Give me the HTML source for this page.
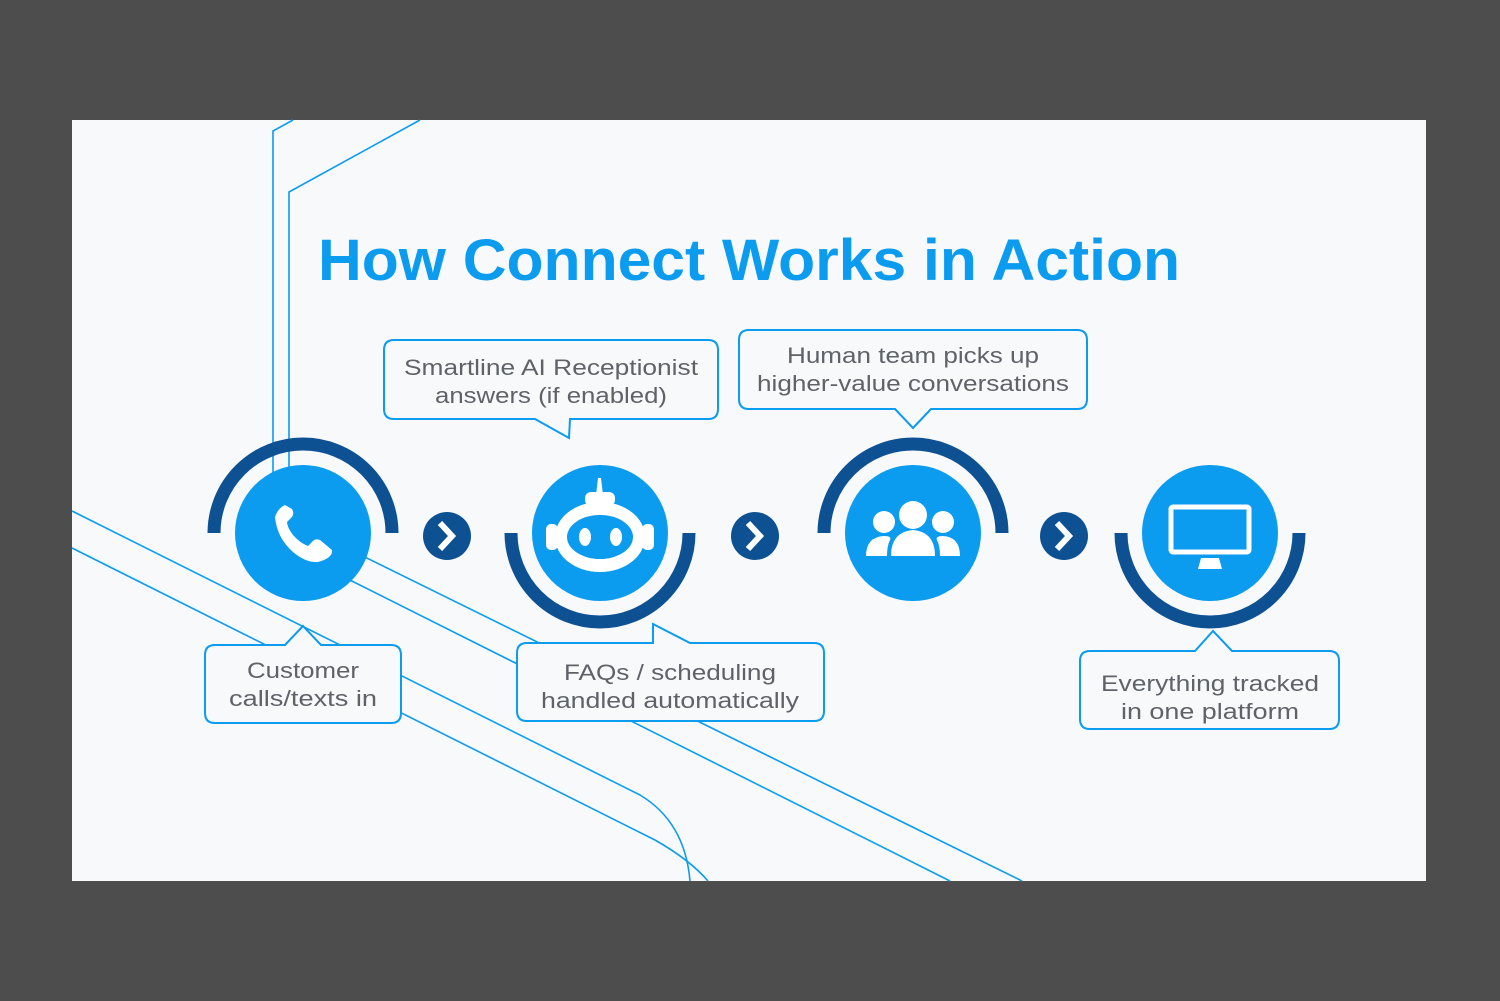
<!DOCTYPE html>
<html><head><meta charset="utf-8"><style>
html,body{margin:0;padding:0;background:#4d4d4d;}
svg{display:block;}
text{font-family:"Liberation Sans",sans-serif;}
</style></head><body>
<svg width="1500" height="1001" viewBox="0 0 1500 1001" xmlns="http://www.w3.org/2000/svg">
<rect width="1500" height="1001" fill="#4d4d4d"/>
<rect x="72" y="120" width="1354" height="761" fill="#f7f9fb"/>
<g fill="none" stroke="#0b9bef" stroke-width="1.6">
<path d="M293,120 L273,131 L273,500"/>
<path d="M420,120 L289,192 L289,500"/>
<path d="M72,511 L640,795 Q685,822 690,881"/>
<path d="M72,548 L655,840 Q690,860 708,881"/>
<path d="M310,530 L1022,881"/>
<path d="M290,550 L950,881"/>
</g>
<text x="318" y="280" font-size="58" font-weight="bold" fill="#0b9bef" textLength="862" lengthAdjust="spacingAndGlyphs">How Connect Works in Action</text>
<g fill="none" stroke="#0d5193" stroke-width="13">
<path d="M214,533 A89,89 0 0 1 392,533"/>
<path d="M511,533 A89,89 0 0 0 689,533"/>
<path d="M824,533 A89,89 0 0 1 1002,533"/>
<path d="M1121,533 A89,89 0 0 0 1299,533"/>
</g>
<g fill="#0b9bef">
<circle cx="303" cy="533" r="68"/>
<circle cx="600" cy="533" r="68"/>
<circle cx="913" cy="533" r="68"/>
<circle cx="1210" cy="533" r="68"/>
</g>
<g>
<circle cx="447" cy="536" r="24" fill="#0d5193"/>
<circle cx="755" cy="536" r="24" fill="#0d5193"/>
<circle cx="1064" cy="536" r="24" fill="#0d5193"/>
<g fill="none" stroke="#fff" stroke-width="6">
<path d="M440,523 L452,536 L440,549"/>
<path d="M748,523 L760,536 L748,549"/>
<path d="M1057,523 L1069,536 L1057,549"/>
</g>
</g>
<path d="M285,505 Q278,508 275,517 Q277,538 293,552 Q306,563 318,562 Q333,558 332,550 L320,540 Q315,538 312,542 L308,546 Q300,543 293,535 Q287,527 287,522 L291,518 Q295,514 292,509 Z" fill="#fff"/>
<g fill="#fff">
<polygon points="598,478 601,478 603,495 596,495"/>
<rect x="585" y="492" width="30" height="14" rx="6"/>
<rect x="546" y="524" width="12" height="26" rx="5"/>
<rect x="642" y="524" width="12" height="26" rx="5"/>
<ellipse cx="600" cy="537" rx="45" ry="35"/>
</g>
<ellipse cx="600" cy="537" rx="33" ry="22" fill="#0b9bef"/>
<ellipse cx="585" cy="537" rx="6" ry="9" fill="#fff"/>
<ellipse cx="616" cy="537" rx="6" ry="9" fill="#fff"/>
<g fill="#fff">
<circle cx="913" cy="515" r="14"/>
<circle cx="884" cy="522" r="11"/>
<circle cx="943" cy="522" r="11"/>
<path d="M891,556 Q891,532 913,530 Q935,532 935,556 Z"/>
<path d="M866,556 Q866,537 884,536 Q892,536 890,540 Q887,546 887,556 Z"/>
<path d="M960,556 Q960,537 943,536 Q935,536 937,540 Q940,546 940,556 Z"/>
</g>
<rect x="1171" y="507" width="78" height="45" rx="2" fill="none" stroke="#fff" stroke-width="5"/>
<polygon points="1201,558 1219,558 1222,569 1198,569" fill="#fff"/>
<g fill="#f7f9fb" stroke="#0b9bef" stroke-width="2">
<path d="M215,645 L285,645 L303,626 L321,645 L391,645 Q401,645 401,655 L401,713 Q401,723 391,723 L215,723 Q205,723 205,713 L205,655 Q205,645 215,645 Z"/>
<path d="M394,340 L708,340 Q718,340 718,350 L718,409 Q718,419 708,419 L570,419 L569,438 L535,419 L394,419 Q384,419 384,409 L384,350 Q384,340 394,340 Z"/>
<path d="M749,330 L1077,330 Q1087,330 1087,340 L1087,399 Q1087,409 1077,409 L931,409 L913,428 L895,409 L749,409 Q739,409 739,399 L739,340 Q739,330 749,330 Z"/>
<path d="M527,643 L653,643 L653,624 L690,643 L814,643 Q824,643 824,653 L824,711 Q824,721 814,721 L527,721 Q517,721 517,711 L517,653 Q517,643 527,643 Z"/>
<path d="M1090,651 L1195,651 L1213,631 L1232,651 L1329,651 Q1339,651 1339,661 L1339,719 Q1339,729 1329,729 L1090,729 Q1080,729 1080,719 L1080,661 Q1080,651 1090,651 Z"/>
</g>
<g fill="#5f6368" font-size="22" text-anchor="middle">
<text x="303" y="678" textLength="112" lengthAdjust="spacingAndGlyphs">Customer</text>
<text x="303" y="706" textLength="148" lengthAdjust="spacingAndGlyphs">calls/texts in</text>
<text x="551" y="375" textLength="294" lengthAdjust="spacingAndGlyphs">Smartline AI Receptionist</text>
<text x="551" y="403" textLength="232" lengthAdjust="spacingAndGlyphs">answers (if enabled)</text>
<text x="913" y="363" textLength="252" lengthAdjust="spacingAndGlyphs">Human team picks up</text>
<text x="913" y="391" textLength="312" lengthAdjust="spacingAndGlyphs">higher-value conversations</text>
<text x="670" y="680" textLength="212" lengthAdjust="spacingAndGlyphs">FAQs / scheduling</text>
<text x="670" y="708" textLength="258" lengthAdjust="spacingAndGlyphs">handled automatically</text>
<text x="1210" y="691" textLength="218" lengthAdjust="spacingAndGlyphs">Everything tracked</text>
<text x="1210" y="719" textLength="178" lengthAdjust="spacingAndGlyphs">in one platform</text>
</g>
</svg>
</body></html>
